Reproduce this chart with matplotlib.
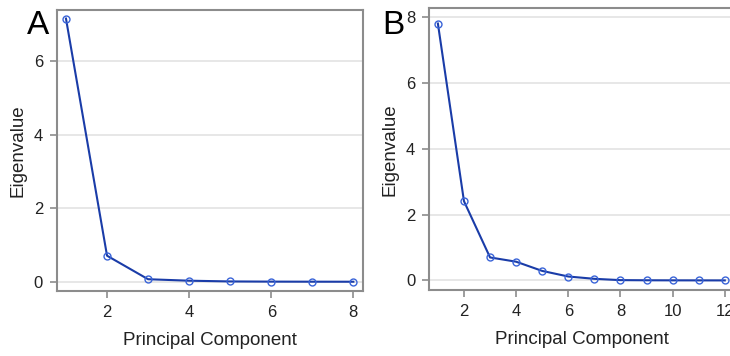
import matplotlib
matplotlib.use("Agg")
import matplotlib.pyplot as plt

plt.rcParams['font.family'] = ['Liberation Sans', 'DejaVu Sans']

comp_a = [1, 2, 3, 4, 5, 6, 7, 8]
eig_a = [7.16, 0.71, 0.07, 0.03, 0.01, 0.005, 0.003, 0.002]
comp_b = [1, 2, 3, 4, 5, 6, 7, 8, 9, 10, 11, 12]
eig_b = [7.81, 2.41, 0.70, 0.57, 0.29, 0.12, 0.05, 0.01, 0.005, 0.003, 0.002, 0.001]

xticks_a = [2, 4, 6, 8]
xticks_b = [2, 4, 6, 8, 10, 12]
yticks_a = [0, 2, 4, 6]
yticks_b = [0, 2, 4, 6, 8]

fig = plt.figure(figsize=(7.3, 3.56), dpi=100)
ax_a = fig.add_axes([0.078, 0.1826, 0.419, 0.789])
ax_b = fig.add_axes([0.5877, 0.1854, 0.418, 0.791])

line_c = '#1a3ca8'
mark_c = '#3a64d8'
spine_c = '#8c8c8c'

def style(ax, x, y, xt, yt, xlim, ylim):
    ax.plot(x, y, color=line_c, lw=1.5, zorder=3)
    ax.plot(x, y, ls='none', marker='o', ms=5, mfc='none', mec=mark_c, mew=1.0, zorder=4)
    ax.set_xlim(*xlim)
    ax.set_ylim(*ylim)
    ax.set_xticks(xt)
    ax.set_yticks(yt)
    ax.grid(axis='y', color='#e3e3e3', lw=1.2, zorder=0)
    ax.set_axisbelow(True)
    for s in ax.spines.values():
        s.set_color(spine_c)
        s.set_linewidth(1.5)
    ax.tick_params(colors=spine_c, labelcolor='#222222', labelsize=12, length=5, width=1.2, pad=5)
    ax.set_xlabel('Principal Component', fontsize=13.5, color='#222222', labelpad=9)
    ax.set_ylabel('Eigenvalue', fontsize=13.5, color='#222222', labelpad=5)

style(ax_a, comp_a, eig_a, xticks_a, yticks_a, (0.78, 8.23), (-0.25, 7.39))
style(ax_b, comp_b, eig_b, xticks_b, yticks_b, (0.66, 12.36), (-0.29, 8.27))

fig.text(0.037, 0.905, 'A', fontsize=24, color='black')
fig.text(0.523, 0.905, 'B', fontsize=24, color='black')

fig.savefig('out.png', dpi=100)
